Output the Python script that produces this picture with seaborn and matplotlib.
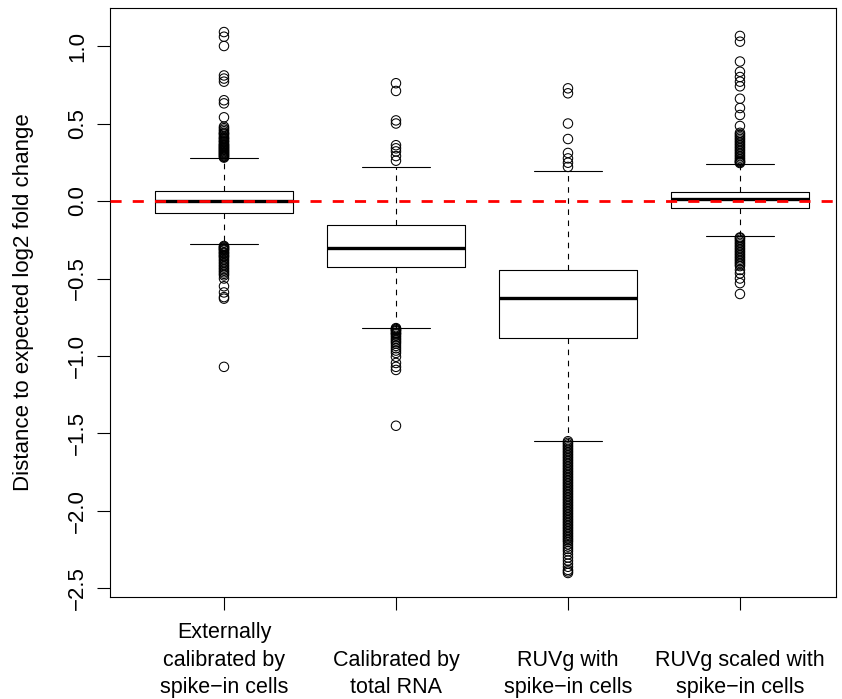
import numpy as np
import pandas as pd
import matplotlib
matplotlib.use("Agg")
import matplotlib.pyplot as plt
import seaborn as sns

# categories (x axis)
methods = ["Externally\ncalibrated by\nspike\u2212in cells",
           "Calibrated by\ntotal RNA",
           "RUVg with\nspike\u2212in cells",
           "RUVg scaled with\nspike\u2212in cells"]

# box statistics
q1 = [-0.075, -0.424, -0.882, -0.047]
med = [0.0, -0.305, -0.624, 0.013]
q3 = [0.066, -0.157, -0.445, 0.060]
whis_lo = [-0.28, -0.817, -1.546, -0.226]
whis_hi = [0.275, 0.221, 0.196, 0.239]

# outliers
fliers_1 = [1.09, 1.06, 1.00, 0.81, 0.79, 0.77, 0.65, 0.63, 0.54,
            0.48, 0.47, 0.46, 0.45, 0.44, 0.435, 0.43, 0.42, 0.41, 0.405, 0.40,
            0.39, 0.385, 0.38, 0.37, 0.365, 0.36, 0.355, 0.35, 0.345, 0.34,
            0.335, 0.33, 0.325, 0.32, 0.315, 0.31, 0.305, 0.30, 0.295, 0.29,
            0.285, 0.28,
            -0.29, -0.295, -0.30, -0.305, -0.31, -0.315, -0.32, -0.33, -0.335,
            -0.34, -0.35, -0.355, -0.36, -0.37, -0.38, -0.39, -0.40, -0.41,
            -0.42, -0.43, -0.44, -0.45, -0.46, -0.47, -0.48, -0.50, -0.55,
            -0.59, -0.62, -0.63, -1.07]
fliers_2 = [0.76, 0.71, 0.52, 0.50, 0.36, 0.34, 0.32, 0.29, 0.26,
            -0.82, -0.825, -0.83, -0.835, -0.84, -0.85, -0.855, -0.86, -0.87,
            -0.88, -0.89, -0.90, -0.91, -0.92, -0.935, -0.95, -0.965, -0.98,
            -1.005, -1.045, -1.07, -1.09, -1.45]
fliers_3 = [0.727, 0.695, 0.50, 0.40, 0.31, 0.275, 0.247, 0.22,
            -1.55, -1.56, -1.57, -1.58, -1.59, -1.60, -1.61, -1.62, -1.63, -1.64,
            -1.65, -1.66, -1.67, -1.68, -1.69, -1.70, -1.71, -1.72, -1.73, -1.74,
            -1.75, -1.76, -1.77, -1.78, -1.79, -1.80, -1.81, -1.82, -1.83, -1.84,
            -1.85, -1.86, -1.87, -1.88, -1.89, -1.90, -1.91, -1.92, -1.93, -1.94,
            -1.95, -1.96, -1.97, -1.98, -1.99, -2.00, -2.01, -2.02, -2.03, -2.04,
            -2.05, -2.06, -2.07, -2.08, -2.09, -2.10, -2.11, -2.12, -2.13, -2.14,
            -2.15, -2.16, -2.17, -2.18, -2.19, -2.20, -2.215, -2.23, -2.245,
            -2.26, -2.28, -2.30, -2.32, -2.34, -2.36, -2.38, -2.39, -2.40]
fliers_4 = [1.065, 1.028, 0.90, 0.834, 0.80, 0.77, 0.74, 0.66, 0.60, 0.555, 0.484,
            0.44, 0.43, 0.42, 0.41, 0.40, 0.39, 0.38, 0.37, 0.36, 0.35, 0.34,
            0.33, 0.32, 0.31, 0.30, 0.29, 0.28, 0.27, 0.26, 0.255, 0.25, 0.245,
            -0.235, -0.24, -0.25, -0.26, -0.27, -0.28, -0.29, -0.30, -0.31, -0.32,
            -0.33, -0.34, -0.35, -0.36, -0.37, -0.38, -0.39, -0.40, -0.41, -0.42,
            -0.445, -0.467, -0.50, -0.53, -0.60]

sns.set_style("ticks")
plt.rcParams["font.family"] = ["Liberation Sans", "DejaVu Sans"]
plt.rcParams["text.color"] = "black"
plt.rcParams["axes.labelcolor"] = "black"
plt.rcParams["xtick.color"] = "black"
plt.rcParams["ytick.color"] = "black"

fig = plt.figure(figsize=(8.42, 6.99), dpi=100)
ax = fig.add_axes([0.1312, 0.1459, 0.8616, 0.8426])

positions = [1, 2, 3, 4]
stats = []
for i in range(4):
    stats.append({"med": med[i], "q1": q1[i], "q3": q3[i],
                  "whislo": whis_lo[i], "whishi": whis_hi[i], "fliers": []})

ax.bxp(stats, positions=positions, widths=0.8, capwidths=0.4, showfliers=False,
       boxprops=dict(color="black", linewidth=0.8),
       whiskerprops=dict(color="black", linewidth=0.8, linestyle=(0, (5, 5))),
       capprops=dict(color="black", linewidth=0.8),
       medianprops=dict(color="black", linewidth=2.4, solid_capstyle="butt"))

# outliers as open circles
all_fliers = [fliers_1, fliers_2, fliers_3, fliers_4]
fl = pd.DataFrame({"pos": np.concatenate([[p] * len(f) for p, f in zip(positions, all_fliers)]),
                   "value": np.concatenate(all_fliers)})
sns.scatterplot(data=fl, x="pos", y="value", ax=ax, marker="o", s=46,
                facecolor="none", edgecolor="black", linewidth=0.75, zorder=3)

ax.axhline(0, color="red", linewidth=2, linestyle=(0, (4, 4)), zorder=4)

ax.set_xlim(0.34, 4.558)
ax.set_ylim(-2.555, 1.245)
ax.set_yticks([-2.5, -2.0, -1.5, -1.0, -0.5, 0.0, 0.5, 1.0])
ax.set_yticklabels(["\u22122.5", "\u22122.0", "\u22121.5", "\u22121.0", "\u22120.5", "0.0", "0.5", "1.0"],
                   rotation=90, va="center", fontsize=16)
ax.set_xticks(positions)
ax.set_xticklabels([""] * 4)
for p, lab in zip(positions, methods):
    ax.text(p, -0.1715, lab, transform=ax.get_xaxis_transform(), ha="center",
            va="bottom", fontsize=15.5, linespacing=1.4, multialignment="center",
            color="black")
ax.set_xlabel("")
ax.set_ylabel("Distance to expected log2 fold change", fontsize=16, color="black")
ax.yaxis.set_label_coords(-0.105, 0.5)
ax.tick_params(axis="both", direction="out", length=9.4, width=0.8, color="black",
               labelcolor="black", pad=6.8)
for sp in ax.spines.values():
    sp.set_visible(True)
    sp.set_color("black")
    sp.set_linewidth(0.8)

fig.savefig("out.png", dpi=100)
